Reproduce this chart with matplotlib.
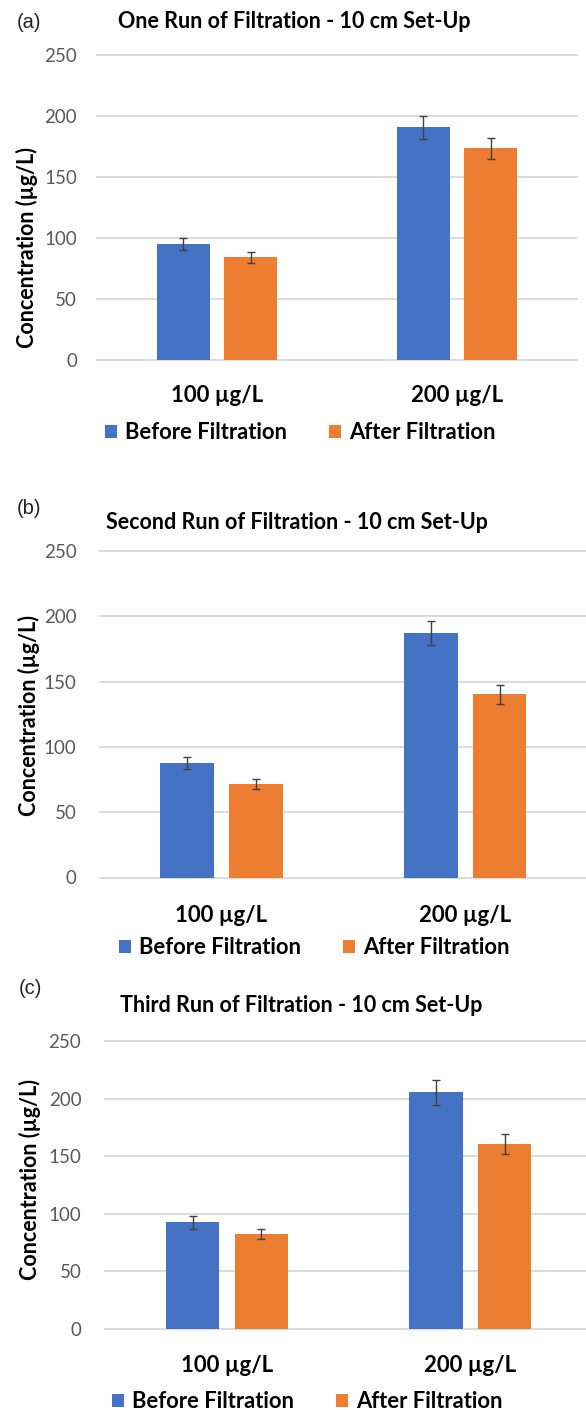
import matplotlib.pyplot as plt
import numpy as np

plt.rcParams['font.family'] = ['Lato', 'DejaVu Sans']

# Data (concentration in µg/L)
categories = ['100 µg/L', '200 µg/L']
series_names = ['Before Filtration', 'After Filtration']
panel_tags = ['(a)', '(b)', '(c)']
titles = [
	'One Run of Filtration - 10 cm Set-Up',
	'Second Run of Filtration - 10 cm Set-Up',
	'Third Run of Filtration - 10 cm Set-Up',
]
y_ticks = [0, 50, 100, 150, 200, 250]

before_a = [95.0, 190.5]
before_a_err = [5.0, 9.4]
after_a = [84.0, 173.3]
after_a_err = [4.8, 8.7]

before_b = [87.8, 187.2]
before_b_err = [4.7, 9.5]
after_b = [71.5, 140.4]
after_b_err = [3.9, 7.3]

before_c = [92.6, 205.4]
before_c_err = [5.5, 10.7]
after_c = [82.5, 160.6]
after_c_err = [4.6, 8.4]

before_all = [before_a, before_b, before_c]
before_err_all = [before_a_err, before_b_err, before_c_err]
after_all = [after_a, after_b, after_c]
after_err_all = [after_a_err, after_b_err, after_c_err]

# Colors (Excel default palette)
blue = '#4472C4'
orange = '#ED7D31'
grid_color = '#d9d9d9'
tick_color = '#595959'

W, H = 586, 1410


def fx(x):
	return x / W


def fy(y):
	return 1 - y / H


# Layout per panel in pixels: axes (left, right, top(250), bottom(0)) and text anchors
layouts = [
	dict(ax=(97, 577, 54.7, 360), tag=(17, 28), title=(294.5, 28), ylab=(27, 248), ypad=20, xpad=25, leg=(105, 432.5)),
	dict(ax=(99.6, 587.2, 551, 877.5), tag=(17, 514), title=(297, 529), ylab=(29, 715), ypad=23, xpad=27, leg=(119, 948)),
	dict(ax=(105.3, 592, 1041, 1329), tag=(19, 994), title=(301, 1012), ylab=(30, 1180), ypad=24, xpad=26, leg=(112, 1402)),
]

fig = plt.figure(figsize=(W / 100, H / 100), dpi=100)
fig.patch.set_facecolor('white')

x = np.arange(len(categories))
bar_w = 0.22
offset = 0.141
err_style = dict(ecolor='#404040', elinewidth=1, capsize=3, capthick=1)

for i, lay in enumerate(layouts):
	l, r, t, b = lay['ax']
	ax = fig.add_axes([fx(l), fy(b), (r - l) / W, (b - t) / H])

	ax.bar(x - offset, before_all[i], bar_w, yerr=before_err_all[i], color=blue,
		error_kw=err_style, label=series_names[0], zorder=3)
	ax.bar(x + offset, after_all[i], bar_w, yerr=after_err_all[i], color=orange,
		error_kw=err_style, label=series_names[1], zorder=3)

	ax.set_xlim(-0.5, 1.5)
	ax.set_ylim(0, 250)
	ax.set_yticks(y_ticks)
	ax.set_xticks(x, categories)

	ax.grid(axis='y', color=grid_color, linewidth=1.3, zorder=0)
	ax.set_axisbelow(True)
	for gl in ax.get_ygridlines():
		gl.set_clip_on(False)
	for spine in ax.spines.values():
		spine.set_visible(False)

	ax.tick_params(axis='y', length=0, pad=lay['ypad'] * 0.72, labelsize=13.5, labelcolor=tick_color)
	ax.tick_params(axis='x', length=0, pad=lay['xpad'] * 0.72, labelsize=16)
	for lbl in ax.get_xticklabels():
		lbl.set_fontweight('bold')

	ax.set_ylabel('Concentration (µg/L)', fontsize=15.5, fontweight='bold', va='center')
	ax.yaxis.set_label_coords((lay['ylab'][0] - l) / (r - l), (b - lay['ylab'][1]) / (b - t))

	ax.legend(loc='center left', bbox_to_anchor=(fx(lay['leg'][0]), fy(lay['leg'][1])),
		bbox_transform=fig.transFigure, ncol=2, frameon=False,
		prop={'weight': 'bold', 'size': 15.8}, handlelength=0.56, handleheight=0.56,
		handletextpad=0.35, columnspacing=1.9, borderpad=0, borderaxespad=0)

	fig.text(fx(lay['title'][0]), fy(lay['title'][1]), titles[i], ha='center', va='baseline',
		fontsize=15.5, fontweight='bold', color='black')
	fig.text(fx(lay['tag'][0]), fy(lay['tag'][1]), panel_tags[i], ha='left', va='baseline',
		fontsize=14.5, family=['Liberation Sans', 'DejaVu Sans'], color='#222222')

fig.savefig('out.png', dpi=100, facecolor='white')
plt.close(fig)
